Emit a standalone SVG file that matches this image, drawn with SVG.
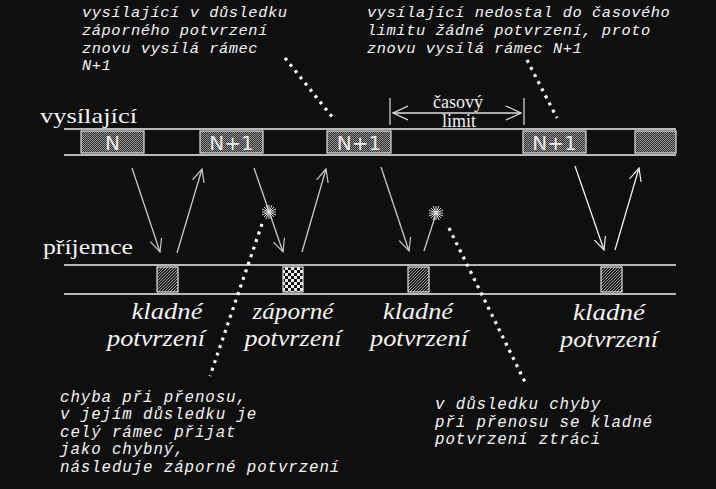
<svg xmlns="http://www.w3.org/2000/svg" width="716" height="489" viewBox="0 0 716 489">
<defs>
<pattern id="stip" width="2" height="2" patternUnits="userSpaceOnUse">
<rect width="2" height="2" fill="#2c2c2c"/>
<rect width="1" height="1" fill="#969696"/>
<rect x="1" y="1" width="1" height="1" fill="#969696"/>
</pattern>
<pattern id="hatch" width="3" height="3" patternUnits="userSpaceOnUse">
<rect width="3" height="3" fill="#1e1e1e"/>
<rect x="0" y="2" width="1" height="1" fill="#9a9a9a"/>
<rect x="1" y="1" width="1" height="1" fill="#9a9a9a"/>
<rect x="2" y="0" width="1" height="1" fill="#9a9a9a"/>
</pattern>
<pattern id="checker" width="6" height="6" patternUnits="userSpaceOnUse">
<rect width="6" height="6" fill="#111"/>
<rect width="3" height="3" fill="#eee"/>
<rect x="3" y="3" width="3" height="3" fill="#eee"/>
</pattern>
<marker id="ahg" viewBox="0 0 14 14" refX="13" refY="7" markerWidth="14" markerHeight="14" markerUnits="userSpaceOnUse" orient="auto">
<path d="M0,1 L13,7 L0,13" fill="none" stroke="#c8c8c8" stroke-width="1.2"/>
</marker>
<marker id="ahw" viewBox="0 0 14 14" refX="13" refY="7" markerWidth="14" markerHeight="14" markerUnits="userSpaceOnUse" orient="auto">
<path d="M0,1 L13,7 L0,13" fill="none" stroke="#f0f0f0" stroke-width="1.2"/>
</marker>
<marker id="ahl" viewBox="0 0 16 16" refX="15" refY="8" markerWidth="16" markerHeight="16" markerUnits="userSpaceOnUse" orient="auto-start-reverse">
<path d="M0,1 L15,8 L0,15" fill="none" stroke="#e0e0e0" stroke-width="1.2"/>
</marker>
</defs>
<style>
.rail{stroke:#f2f2f2;stroke-width:1.6}
.frame{fill:url(#stip);stroke:#e0e0e0;stroke-width:1.2}
.ack{fill:url(#hatch);stroke:#e0e0e0;stroke-width:1.2}
.ftxt{font-family:"DejaVu Sans",sans-serif;font-size:20px;fill:#ececec;text-anchor:middle}
.lbl{font-family:"Liberation Serif",serif;font-size:22px;fill:#f4f4f4}
.tl{font-family:"Liberation Serif",serif;font-size:18px;fill:#f0f0f0;text-anchor:middle}
.ack-t{font-family:"Liberation Serif",serif;font-style:italic;font-size:24px;fill:#f4f4f4;text-anchor:middle}
.note{font-family:"Liberation Mono",monospace;font-style:italic;font-size:15.4px;letter-spacing:0.55px;fill:#f4f4f4}
.note2{font-family:"Liberation Mono",monospace;font-style:italic;font-size:15.8px;letter-spacing:0.9px;fill:#f4f4f4}
.arr{stroke:#c8c8c8;stroke-width:1.3;fill:none}
.arrw{stroke:#f0f0f0;stroke-width:1.3;fill:none}
.dots{stroke:#ffffff;stroke-width:3.2;stroke-dasharray:3 5;fill:none}
.spark{stroke:#d8d8d8;stroke-width:1;fill:none}
</style>
<rect width="716" height="489" fill="#0f0f0f"/>

<g id="sender">
<text class="lbl" x="40" y="123" textLength="97" lengthAdjust="spacingAndGlyphs">vysílající</text>
<line class="rail" x1="64" y1="129" x2="676" y2="129"/>
<line class="rail" x1="64" y1="155" x2="676" y2="155"/>
</g>
<g id="receiver">
<text class="lbl" x="43" y="254" textLength="90" lengthAdjust="spacingAndGlyphs">příjemce</text>
<line class="rail" x1="64" y1="265" x2="676" y2="265"/>
<line class="rail" x1="64" y1="294" x2="676" y2="294"/>
</g>

<g id="frame-n">
<rect class="frame" x="81" y="131" width="63" height="22"/>
<text class="ftxt" x="112.5" y="150">N</text>
</g>
<g id="frame-n1-a">
<rect class="frame" x="200" y="131" width="63" height="22"/>
<text class="ftxt" x="231.5" y="150">N+1</text>
</g>
<g id="frame-n1-b">
<rect class="frame" x="327" y="131" width="64" height="22"/>
<text class="ftxt" x="359" y="150">N+1</text>
</g>
<g id="frame-n1-c">
<rect class="frame" x="523" y="131" width="63" height="22"/>
<text class="ftxt" x="554.5" y="150">N+1</text>
</g>
<g id="frame-next">
<rect class="frame" x="635" y="131" width="41" height="22"/>
</g>

<g id="timeout">
<line x1="390" y1="98" x2="390" y2="125" stroke="#d0d0d0" stroke-width="1.3"/>
<line x1="524" y1="98" x2="524" y2="125" stroke="#d0d0d0" stroke-width="1.3"/>
<line x1="393" y1="113" x2="521" y2="113" stroke="#e0e0e0" stroke-width="1.3" marker-start="url(#ahl)" marker-end="url(#ahl)"/>
<text class="tl" x="458" y="108">časový</text>
<text class="tl" x="459" y="127">limit</text>
</g>

<g id="ack-1">
<rect class="ack" x="157" y="267" width="21" height="25"/>
<text class="ack-t" x="167" y="319" textLength="71" lengthAdjust="spacingAndGlyphs">kladné</text>
<text class="ack-t" x="156" y="346" textLength="98" lengthAdjust="spacingAndGlyphs">potvrzení</text>
</g>
<g id="nak-2">
<rect x="283" y="267" width="20" height="25" fill="url(#checker)" stroke="#e0e0e0" stroke-width="1.2"/>
<text class="ack-t" x="293" y="319" textLength="81" lengthAdjust="spacingAndGlyphs">záporné</text>
<text class="ack-t" x="293" y="346" textLength="97" lengthAdjust="spacingAndGlyphs">potvrzení</text>
</g>
<g id="ack-3">
<rect class="ack" x="408" y="267" width="21" height="25"/>
<text class="ack-t" x="418" y="319" textLength="70" lengthAdjust="spacingAndGlyphs">kladné</text>
<text class="ack-t" x="419" y="346" textLength="98" lengthAdjust="spacingAndGlyphs">potvrzení</text>
</g>
<g id="ack-4">
<rect class="ack" x="601" y="267" width="21" height="25"/>
<text class="ack-t" x="609" y="320" textLength="72" lengthAdjust="spacingAndGlyphs">kladné</text>
<text class="ack-t" x="609" y="347" textLength="98" lengthAdjust="spacingAndGlyphs">potvrzení</text>
</g>

<g id="connectors">
<line class="arr" x1="132" y1="168" x2="160" y2="252" marker-end="url(#ahg)"/>
<line class="arr" x1="177" y1="253" x2="202" y2="169" marker-end="url(#ahg)"/>
<line class="arr" x1="254" y1="168" x2="283" y2="252" marker-end="url(#ahg)"/>
<line class="arr" x1="302" y1="252" x2="326" y2="169" marker-end="url(#ahg)"/>
<line class="arr" x1="381" y1="167" x2="409" y2="251" marker-end="url(#ahg)"/>
<line class="arr" x1="424" y1="251" x2="435" y2="217"/>
<line class="arrw" x1="575" y1="166" x2="604" y2="250" marker-end="url(#ahw)"/>
<line class="arrw" x1="615" y1="250" x2="639" y2="168" marker-end="url(#ahw)"/>
<path class="dots" d="M285,58 L333,118"/>
<path class="dots" d="M527,60 L557,118"/>
<path class="dots" d="M262,224 L210,376"/>
<path class="dots" d="M449,228 L525,382"/>
</g>

<g id="spark-1" class="spark">
<path d="M262,212 L276,212 M269,205 L269,219 M264,207 L274,217 M274,207 L264,217 M266,205 L272,219 M272,205 L266,219 M262,209 L276,215 M262,215 L276,209"/>
</g>
<g id="spark-2" class="spark">
<path d="M429,213 L443,213 M436,206 L436,220 M431,208 L441,218 M441,208 L431,218 M433,206 L439,220 M439,206 L433,220 M429,210 L443,216 M429,216 L443,210"/>
</g>

<g id="note-top-left">
<text class="note" x="82" y="17">vysílající v důsledku</text>
<text class="note" x="82" y="35">záporného potvrzení</text>
<text class="note" x="82" y="53">znovu vysílá rámec</text>
<text class="note" x="82" y="70">N+1</text>
</g>
<g id="note-top-right">
<text class="note" x="367" y="17">vysílající nedostal do časového</text>
<text class="note" x="367" y="35">limitu žádné potvrzení, proto</text>
<text class="note" x="367" y="53">znovu vysílá rámec N+1</text>
</g>
<g id="note-bottom-left">
<text class="note2" x="60" y="402">chyba při přenosu,</text>
<text class="note2" x="60" y="419">v jejím důsledku je</text>
<text class="note2" x="60" y="437">celý rámec přijat</text>
<text class="note2" x="60" y="454">jako chybný,</text>
<text class="note2" x="60" y="472">následuje záporné potvrzení</text>
</g>
<g id="note-bottom-right">
<text class="note2" x="435" y="409">v důsledku chyby</text>
<text class="note2" x="435" y="427">při přenosu se kladné</text>
<text class="note2" x="435" y="444">potvrzení ztráci</text>
</g>
</svg>
